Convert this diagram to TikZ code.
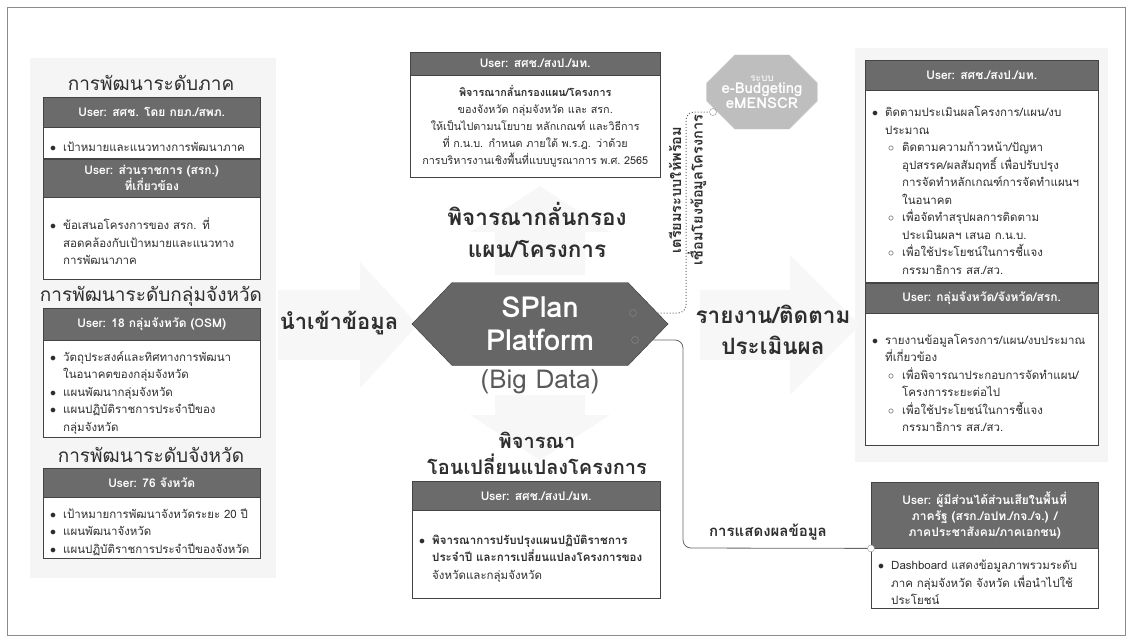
\documentclass[tikz,border=0pt]{standalone}
\usepackage{fontspec}
\setmainfont[Script=Thai]{Loma}
\usetikzlibrary{positioning, shapes.symbols, shapes.misc}
\definecolor{HeadGray}{HTML}{6B6B6B}
\definecolor{EdgeGray}{HTML}{444444}
\definecolor{PanelGray}{HTML}{F5F5F5}
\definecolor{OctaGray}{HTML}{BEBEBE}
\definecolor{TextGray}{HTML}{2E2E2E}

\newcommand{\blt}[1]{\par\leftskip=13pt\noindent\hspace*{-13pt}\makebox[13pt][l]{$\bullet$}{\let\\\newline#1}\par}
\newcommand{\sblt}[1]{\par\leftskip=30pt\noindent\hspace*{-14pt}\makebox[14pt][l]{$\circ$}{\let\\\newline#1}\par}

\begin{document}
\begin{tikzpicture}[
        x=1pt, y=-1pt,
        head/.style={
            rectangle, draw=EdgeGray, fill=HeadGray, text=white, align=center,
            minimum width=#1, font=\fontsize{12}{16}\selectfont\bfseries, inner sep=2pt
        },
        body/.style={
            rectangle, draw=EdgeGray, fill=white, text=TextGray, align=left,
            text width=#1, inner xsep=7pt, inner ysep=3pt, font=\fontsize{11.5}{17.5}\selectfont
        },
        tier/.style={font=\fontsize{19}{22}\selectfont, text=TextGray},
        stage/.style={font=\fontsize{22.5}{32}\selectfont\bfseries, align=center, text=TextGray},
        port/.style={circle, draw=black!45, inner sep=0pt, minimum size=7pt},
        link/.style={draw=black!60, line width=0.8pt, rounded corners=8pt},
        dotlink/.style={draw=black!60, line width=1pt, dotted, rounded corners=8pt},
        rotlabel/.style={rotate=90, font=\fontsize{14.5}{16}\selectfont\bfseries, text=TextGray},
        ghost/.style={fill=black!3}
    ]
    \useasboundingbox (0,0) rectangle (1132,642);

    % Frame and faint panels
    \draw[black!45] (7,7) rectangle (1125,635);
    \fill[PanelGray] (30,58) rectangle (276,578);
    \fill[PanelGray] (855,48) rectangle (1108,462);
    \fill[ghost] (278,290) -- (360,290) -- (360,262) -- (418,325) -- (360,388) -- (360,360) -- (278,360) -- cycle;
    \fill[ghost] (495,275) -- (495,232) -- (470,232) -- (540,186) -- (610,232) -- (585,232) -- (585,275) -- cycle;
    \fill[ghost] (700,290) -- (790,290) -- (790,255) -- (860,325) -- (790,395) -- (790,360) -- (700,360) -- cycle;
    \fill[ghost] (495,395) -- (585,395) -- (585,415) -- (610,415) -- (540,460) -- (470,415) -- (495,415) -- cycle;

    % Regional level
    \node[tier] (regTitle) at (151,83) {การพัฒนาระดับภาค};
    \node[head=217pt, minimum height=30pt, anchor=north west] (regUser) at (43,97) {User: สศช. โดย กยภ./สพภ.};
    \node[body=203pt, minimum height=31pt, below=0pt of regUser] (regItem) {\blt{เป้าหมายและแนวทางการพัฒนาภาค}};
    \node[head=217pt, minimum height=38pt, below=0pt of regItem] (agencyUser) {User: ส่วนราชการ (สรก.)\\ที่เกี่ยวข้อง};
    \node[body=203pt, minimum height=82pt, below=0pt of agencyUser] (agencyItem) {\blt{ข้อเสนอโครงการของ สรก. ที่\\สอดคล้องกับเป้าหมายและแนวทาง\\การพัฒนาภาค}};

    % Cluster level
    \node[tier] (clusterTitle) at (151,296) {การพัฒนาระดับกลุ่มจังหวัด};
    \node[head=217pt, minimum height=32pt, anchor=north west] (clusterUser) at (43,308) {User: 18 กลุ่มจังหวัด (OSM)};
    \node[body=203pt, minimum height=97pt, below=0pt of clusterUser] (clusterItem) {\blt{วัตถุประสงค์และทิศทางการพัฒนา\\ในอนาคตของกลุ่มจังหวัด}\blt{แผนพัฒนากลุ่มจังหวัด}\blt{แผนปฏิบัติราชการประจำปีของ\\กลุ่มจังหวัด}};

    % Province level
    \node[tier] (provTitle) at (151,455) {การพัฒนาระดับจังหวัด};
    \node[head=217pt, minimum height=29pt, anchor=north west] (provUser) at (43,468) {User: 76 จังหวัด};
    \node[body=203pt, minimum height=58pt, below=0pt of provUser] (provItem) {\blt{เป้าหมายการพัฒนาจังหวัดระยะ~20~ปี}\blt{แผนพัฒนาจังหวัด}\blt{แผนปฏิบัติราชการประจำปีของจังหวัด}};

    % Screening
    \node[head=250pt, minimum height=23pt, anchor=north west] (screenUser) at (410,52) {User: สศช./สงป./มท.};
    \node[body=236pt, align=center, minimum height=102pt, below=0pt of screenUser, font=\fontsize{10.8}{17}\selectfont] (screenItem) {\textbf{พิจารณากลั่นกรองแผน/โครงการ}\\ของจังหวัด กลุ่มจังหวัด และ สรก.\\ให้เป็นไปตามนโยบาย หลักเกณฑ์ และวิธีการ\\ที่ ก.น.บ. กำหนด ภายใต้ พ.ร.ฎ. ว่าด้วย\\การบริหารงานเชิงพื้นที่แบบบูรณาการ~พ.ศ.~2565};
    \node[stage] (screenStage) at (537,230) {พิจารณากลั่นกรอง\\แผน/โครงการ};

    % Platform
    \node[signal, signal to=west and east, signal pointer angle=92, draw=black!80, fill=black!60,
        minimum width=256pt, minimum height=83pt, text=white, align=center,
        font=\fontsize{29}{33}\selectfont\bfseries] (splan) at (540,324) {SPlan\\Platform};
    \node[font=\fontsize{26}{28}\selectfont, text=black!65] (bigData) at (540,382) {(Big Data)};

    % Input and reporting
    \node[font=\fontsize{22}{24}\selectfont\bfseries, text=TextGray] (importData) at (339,323) {นำเข้าข้อมูล};
    \node[stage, font=\fontsize{22.5}{31}\selectfont\bfseries] (report) at (773,330) {รายงาน/ติดตาม\\ประเมินผล};

    % Transfer
    \node[stage, font=\fontsize{20}{26}\selectfont\bfseries] (transferStage) at (537,453) {พิจารณา\\โอนเปลี่ยนแปลงโครงการ};
    \node[head=248pt, minimum height=29pt, anchor=north west] (transferUser) at (412,481) {User: สศช./สงป./มท.};
    \node[body=234pt, minimum height=88pt, below=0pt of transferUser] (transferItem) {\blt{\textbf{พิจารณาการปรับปรุงแผนปฏิบัติราชการ\\ประจำปี และการเปลี่ยนแปลงโครงการของ}\\จังหวัดและกลุ่มจังหวัด}};

    % Monitoring
    \node[head=233pt, minimum height=30pt, anchor=north west] (monitorUser) at (865,60) {User: สศช./สงป./มท.};
    \node[body=219pt, minimum height=192pt, below=0pt of monitorUser] (monitorItem) {\blt{ติดตามประเมินผลโครงการ/แผน/งบ\\ประมาณ}\sblt{ติดตามความก้าวหน้า/ปัญหา\\อุปสรรค/ผลสัมฤทธิ์ เพื่อปรับปรุง\\การจัดทำหลักเกณฑ์การจัดทำแผนฯ\\ในอนาคต}\sblt{เพื่อจัดทำสรุปผลการติดตาม\\ประเมินผลฯ เสนอ ก.น.บ.}\sblt{เพื่อใช้ประโยชน์ในการชี้แจง\\กรรมาธิการ สส./สว.}};
    \node[head=233pt, minimum height=30pt, below=0pt of monitorItem] (areaUser) {User: กลุ่มจังหวัด/จังหวัด/สรก.};
    \node[body=219pt, minimum height=132pt, below=0pt of areaUser] (areaItem) {\blt{รายงานข้อมูลโครงการ/แผน/งบประมาณ\\ที่เกี่ยวข้อง}\sblt{เพื่อพิจารณาประกอบการจัดทำแผน/\\โครงการระยะต่อไป}\sblt{เพื่อใช้ประโยชน์ในการชี้แจง\\กรรมาธิการ สส./สว.}};

    % Dashboard
    \node[head=227pt, minimum height=66pt, anchor=north west] (publicUser) at (871,482) {User: ผู้มีส่วนได้ส่วนเสียในพื้นที่\\ภาครัฐ (สรก./อปท./กจ./จ.) /\\ภาคประชาสังคม/ภาคเอกชน)};
    \node[body=213pt, minimum height=60pt, below=0pt of publicUser] (publicItem) {\blt{Dashboard แสดงข้อมูลภาพรวมระดับ\\ภาค กลุ่มจังหวัด จังหวัด เพื่อนำไปใช้\\ประโยชน์}};
    \node[font=\fontsize{15}{18}\selectfont\bfseries, text=TextGray] (showData) at (768,532) {การแสดงผลข้อมูล};

    % e-Budgeting
    \node[chamfered rectangle, chamfered rectangle xsep=14pt, chamfered rectangle ysep=14pt,
        minimum width=88pt, minimum height=74pt, fill=OctaGray, draw=black!20, text=white,
        align=center, inner sep=1pt] (ebudget) at (762,92)
        {{\fontsize{10}{11}\selectfont ระบบ}\\{\fontsize{15}{17}\selectfont\bfseries e-Budgeting}\\{\fontsize{15}{17}\selectfont\bfseries eMENSCR}};

    % Connectors
    \node[port] (toEbudget) at (713,112) {};
    \node[port] (fromSplanTop) at (633,313) {};
    \node[port] (fromSplanLow) at (635,340) {};
    \node[port, fill=white] (toDashboard) at (publicUser.south west) {};
    \coordinate (dotBend) at (686,112);
    \coordinate (solidBend) at (683,548);
    \draw[dotlink] (fromSplanTop) -| (dotBend) -- (toEbudget);
    \draw[link] (fromSplanLow) -| (solidBend) -- (toDashboard);
    \node[rotlabel] (prepSystem) at (675,190) {เตรียมระบบให้พร้อม};
    \node[rotlabel] (linkProject) at (697,190) {เชื่อมโยงข้อมูลโครงการ};

\end{tikzpicture}
\end{document}
